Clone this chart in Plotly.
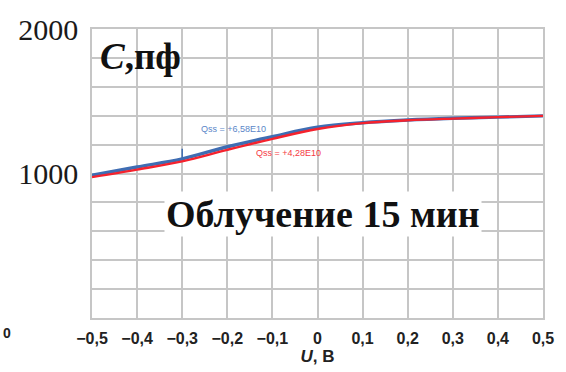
import plotly.graph_objects as go

# Bias voltage, V
voltage = [-0.5, -0.4, -0.3, -0.2, -0.1, 0.0, 0.1, 0.2, 0.3, 0.4, 0.5]
# Capacitance, pF, for two surface-charge values
cap_q658 = [988, 1045, 1101, 1185, 1255, 1320, 1351, 1370, 1382, 1390, 1399]
cap_q428 = [975, 1027, 1084, 1164, 1240, 1308, 1349, 1368, 1380, 1390, 1399]

# Short marker on the Qss = +6,58E10 curve
marker_u = [-0.3, -0.3]
marker_c = [1101, 1171]

x_tickvals = [-0.5, -0.4, -0.3, -0.2, -0.1, 0.0, 0.1, 0.2, 0.3, 0.4, 0.5]
x_ticktext = ["−0,5", "−0,4", "−0,3", "−0,2", "−0,1", "0", "0,1", "0,2", "0,3", "0,4", "0,5"]
y_tickvals = [0, 200, 400, 600, 800, 1000, 1200, 1400, 1600, 1800, 2000]
y_ticktext = ["", "", "", "", "", "1000", "", "", "", "", "2000"]

BLUE = "#3F6DB3"
RED = "#F5222D"
GRID = "#C6C6C6"
DARK = "#222222"

fig = go.Figure()
fig.add_trace(go.Scatter(x=voltage, y=cap_q658, mode="lines",
                         line=dict(color=BLUE, width=3.4, shape="spline"),
                         showlegend=False, hoverinfo="skip"))
fig.add_trace(go.Scatter(x=marker_u, y=marker_c, mode="lines",
                         line=dict(color=BLUE, width=1.5),
                         showlegend=False, hoverinfo="skip"))
fig.add_trace(go.Scatter(x=voltage, y=cap_q428, mode="lines",
                         line=dict(color=RED, width=2.4, shape="spline"),
                         showlegend=False, hoverinfo="skip"))

fig.add_annotation(x=-0.187, y=1308, text="Qss = +6,58E10", showarrow=False,
                   font=dict(family="Liberation Sans", size=9, color="#5A86C8"))
fig.add_annotation(x=-0.065, y=1144, text="Qss = +4,28E10", showarrow=False,
                   font=dict(family="Liberation Sans", size=9, color="#F53A44"))

fig.add_annotation(x=-0.487, y=1812, text="<b><i>C</i>,пф</b>", showarrow=False,
                   xanchor="left", yanchor="middle",
                   font=dict(family="Liberation Serif", size=37, color="#111111"))
fig.add_annotation(x=0.012, y=719, text="<b>Облучение 15 мин</b>", showarrow=False,
                   xanchor="center", yanchor="middle", bgcolor="white",
                   font=dict(family="Liberation Serif", size=38, color="#111111"))

# Label from the neighbouring panel at the page edge
fig.add_annotation(xref="paper", yref="paper", x=-0.2022, y=-0.085, text="<b>0</b>",
                   showarrow=False, xanchor="left",
                   font=dict(family="Liberation Sans", size=14, color=DARK))

fig.update_xaxes(range=[-0.5, 0.5], tickvals=x_tickvals, ticktext=x_ticktext,
                 showgrid=True, gridcolor=GRID, gridwidth=1.6,
                 showline=True, linecolor=GRID, linewidth=1.6, mirror=True,
                 zeroline=False, ticks="", ticklabelstandoff=5,
                 tickfont=dict(family="Liberation Sans", size=16, color=DARK, weight="bold"),
                 title=dict(text="<b><i>U</i>, В</b>", standoff=1,
                            font=dict(family="Liberation Sans", size=17, color=DARK)))
fig.update_yaxes(range=[0, 2000], tickvals=y_tickvals, ticktext=y_ticktext,
                 showgrid=True, gridcolor=GRID, gridwidth=1.6,
                 showline=True, linecolor=GRID, linewidth=1.6, mirror=True,
                 zeroline=False, ticks="", ticklabelstandoff=6,
                 tickfont=dict(family="Liberation Serif", size=30, color="#1A1A1A"))

fig.update_layout(width=566, height=372, margin=dict(l=92, r=19, t=28, b=52),
                  plot_bgcolor="white", paper_bgcolor="white")

fig.write_html("out.html")
